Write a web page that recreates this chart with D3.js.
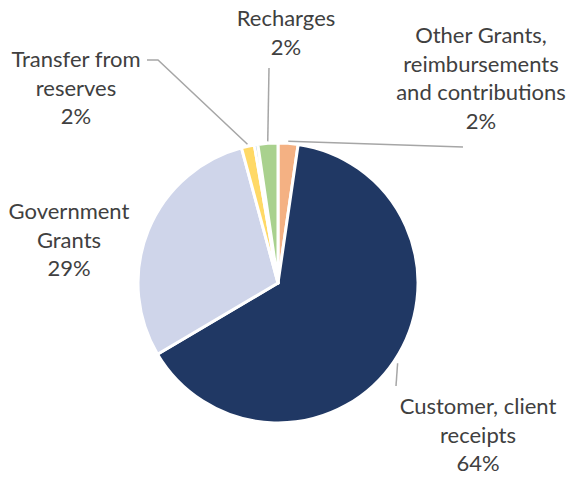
<!DOCTYPE html>
<html>
<head>
<meta charset="utf-8">
<script src="https://cdn.jsdelivr.net/npm/d3@7"></script>
<style>
  html, body { margin: 0; padding: 0; background: #fff; }
  svg { display: block; }
  text { font-family: Lato, "Open Sans", sans-serif; fill: #404040; }
</style>
</head>
<body>
<div id="chart"></div>
<script>
// Slices in drawing order, clockwise from 12 o'clock
const categories = [
  "Other Grants, reimbursements and contributions",
  "Customer, client receipts",
  "Government Grants",
  "Transfer from reserves",
  "Other",
  "Recharges"
];
const shares = [2.3, 64.2, 29.3, 1.5, 0.4, 2.3];
const percentLabels = ["2%", "64%", "29%", "2%", "", "2%"];
const labelLines = [
  ["Other Grants,", "reimbursements", "and contributions"],
  ["Customer, client", "receipts"],
  ["Government", "Grants"],
  ["Transfer from", "reserves"],
  [],
  ["Recharges"]
];
const sliceColors = ["#f4b183", "#203864", "#cfd5ea", "#ffd966", "#9dc3e6", "#a9d18e"];

const width = 569, height = 477;
const cx = 278, cy = 283, radius = 140;
const lineGap = 28.6;

// label anchor (centre x, first baseline) and leader elbow points
const labelPos = [
  {x: 481, y: 43, leader: [[463, 147]]},
  {x: 478, y: 414, leader: [[396, 386]]},
  {x: 69, y: 219, leader: null},
  {x: 76, y: 67, leader: [[158, 60], [147, 60]]},
  null,
  {x: 286, y: 26, leader: [[269, 68]]}
];

const svg = d3.select("#chart").append("svg")
  .attr("width", width)
  .attr("height", height);

const pie = d3.pie().sort(null).value(d => d.value);
const arcs = pie(categories.map((c, i) => ({name: c, value: shares[i], i})));

const arc = d3.arc().innerRadius(0).outerRadius(radius);

const g = svg.append("g").attr("transform", `translate(${cx},${cy})`);

g.selectAll("path.slice")
  .data(arcs)
  .join("path")
  .attr("class", "slice")
  .attr("d", arc)
  .attr("fill", d => sliceColors[d.data.i])
  .attr("stroke", "#fff")
  .attr("stroke-width", 3)
  .attr("stroke-linejoin", "round");

// leader lines: from slice edge to the elbow points near the label
arcs.forEach(d => {
  const pos = labelPos[d.data.i];
  if (!pos || !pos.leader) return;
  const mid = (d.startAngle + d.endAngle) / 2;
  const r = d.data.i === 1 ? radius + 4 : radius + 2;
  const start = [cx + r * Math.sin(mid), cy - r * Math.cos(mid)];
  const pts = [start].concat(pos.leader);
  svg.append("path")
    .attr("d", d3.line()(pts))
    .attr("fill", "none")
    .attr("stroke", "#a6a6a6")
    .attr("stroke-width", 1.5);
});

// labels
arcs.forEach(d => {
  const pos = labelPos[d.data.i];
  if (!pos) return;
  const lines = labelLines[d.data.i].concat([percentLabels[d.data.i]]);
  const t = svg.append("text")
    .attr("text-anchor", "middle")
    .attr("font-size", "22px");
  lines.forEach((ln, k) => {
    t.append("tspan")
      .attr("x", pos.x)
      .attr("y", pos.y + k * lineGap)
      .text(ln);
  });
});
</script>
</body>
</html>
